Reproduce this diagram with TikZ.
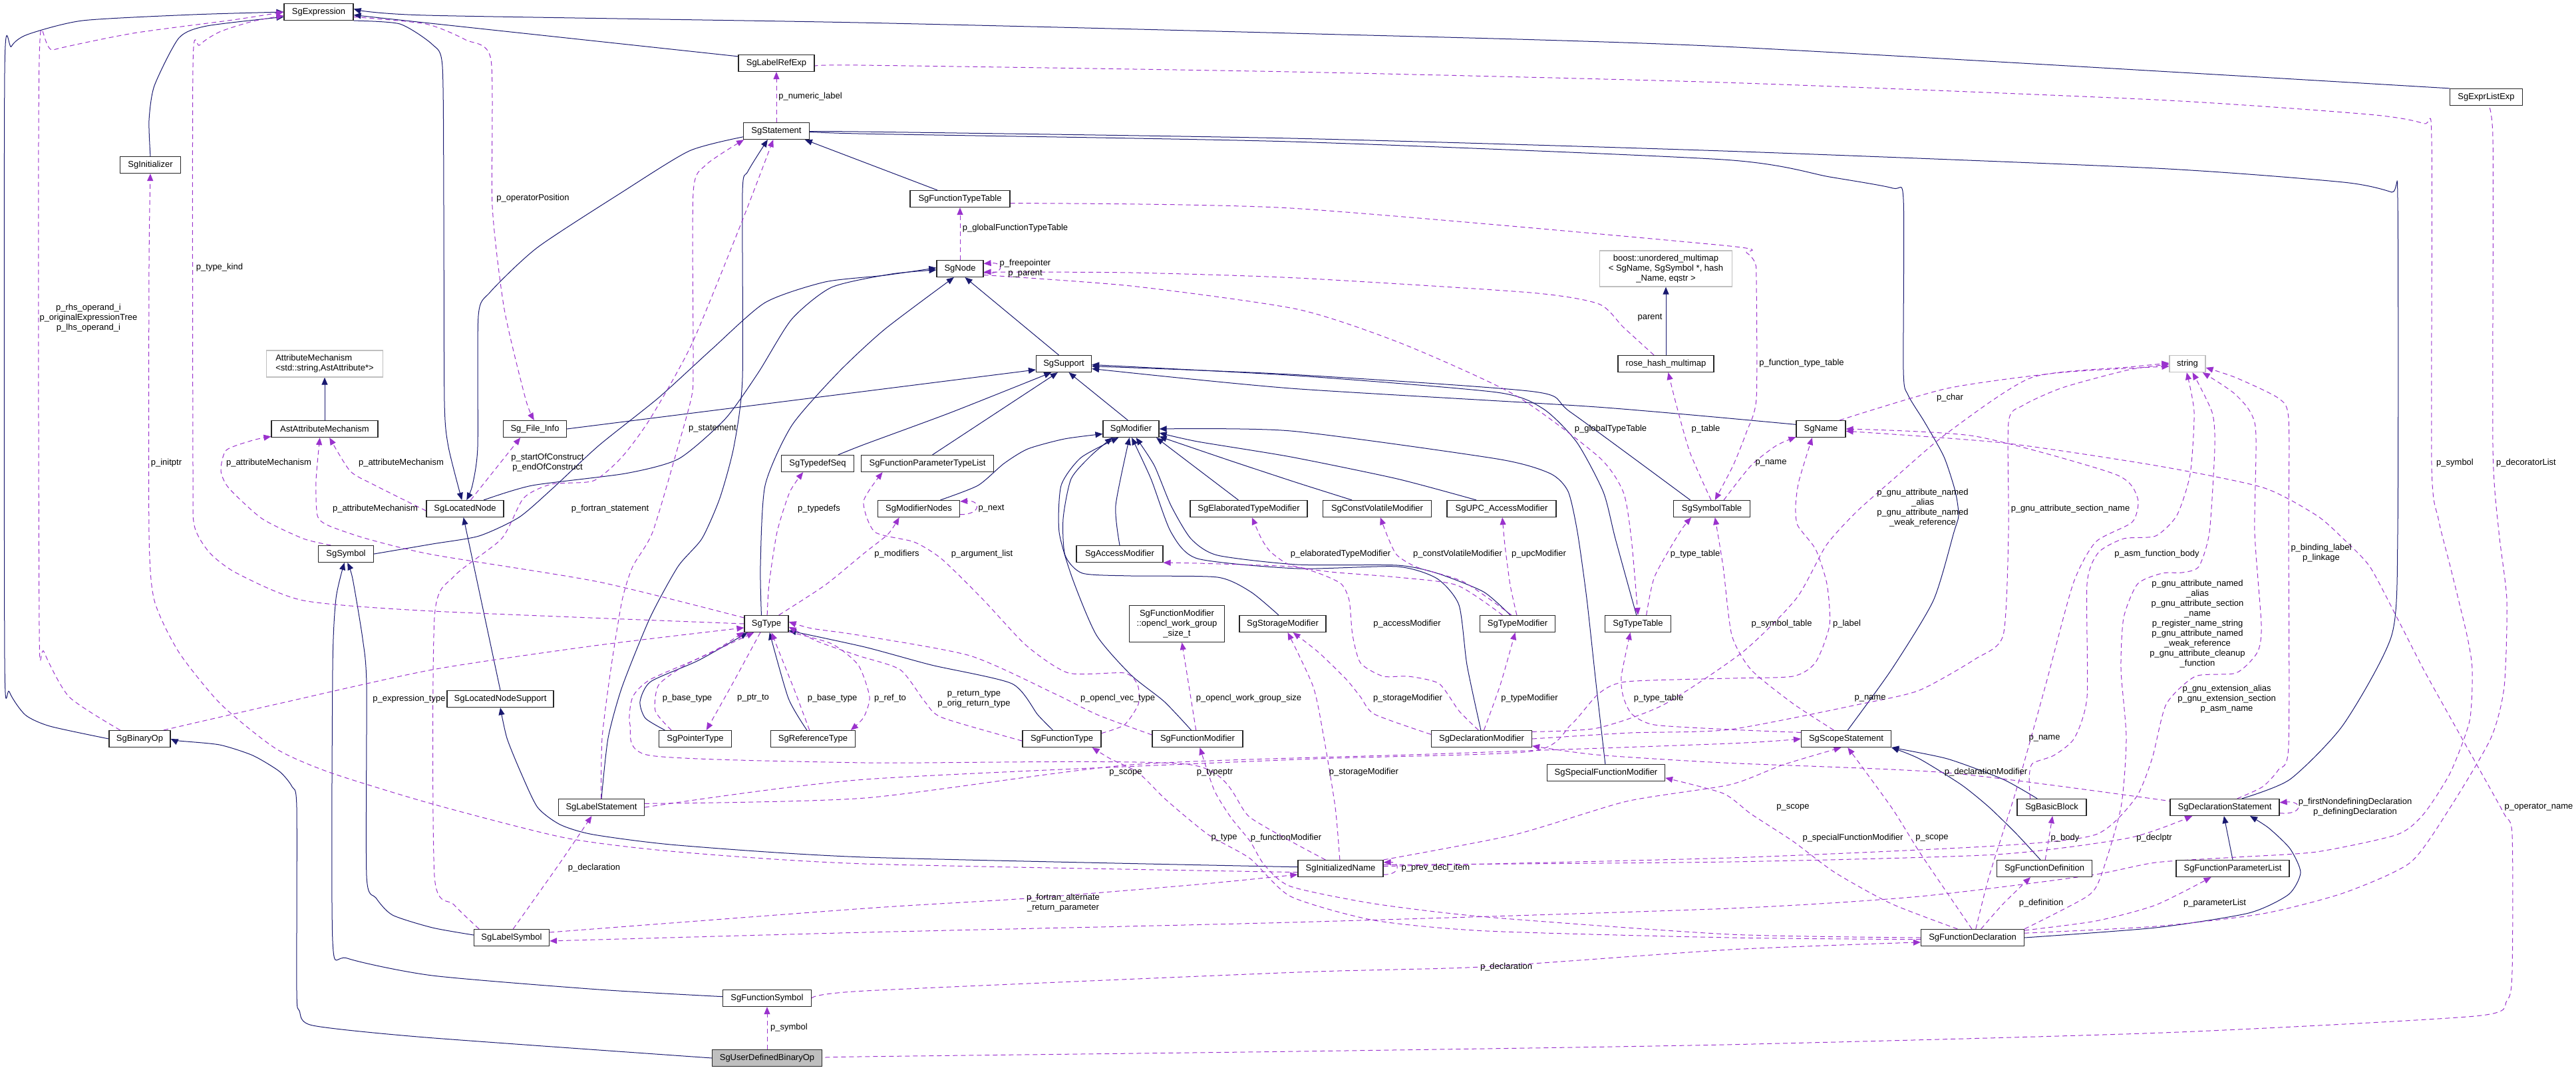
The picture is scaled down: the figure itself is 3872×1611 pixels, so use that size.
\documentclass[tikz,border=0pt]{standalone}
\usepackage{fontspec}
\setmainfont{Liberation Sans}
\usetikzlibrary{arrows.meta}
\definecolor{navy}{RGB}{25,25,112}
\definecolor{purp}{RGB}{154,50,205}
\definecolor{gry}{RGB}{191,191,191}
\newcommand\fs{\fontsize{13}{15}\selectfont}
\pgfdeclarelayer{bg}
\pgfsetlayers{bg,main}
\tikzset{
  cls/.style={draw=black!85, line width=1.2pt, fill=white, minimum height=25pt, inner sep=0pt, font=\fs, align=center},
  ext/.style={cls, draw=gry},
  inh/.style={draw=navy, line width=1pt, -{Triangle[length=11pt,width=9pt]}},
  use/.style={draw=purp, line width=1pt, dash pattern=on 7pt off 5pt, -{Triangle[length=11pt,width=9pt]}},
  lbl/.style={font=\fs, inner sep=0pt, align=center, text=black},
  sm/.style={smooth, tension=0.4},
}
\begin{document}
\begin{tikzpicture}[x=1pt,y=-1pt]
\useasboundingbox (0,0) rectangle (3872,1611);
% ---------------- nodes
\node[cls,minimum width=104pt] (expr) at (479,18) {SgExpression};
\node[cls,minimum width=114pt] (lre) at (1167,95) {SgLabelRefExp};
\node[cls,minimum width=109pt] (ell) at (3737,146) {SgExprListExp};
\node[cls,minimum width=99pt] (stmt) at (1167,197) {SgStatement};
\node[cls,minimum width=91pt] (init) at (226,248) {SgInitializer};
\node[cls,minimum width=150pt] (ftt) at (1443,299) {SgFunctionTypeTable};
\node[cls,minimum width=70pt] (node) at (1443,404) {SgNode};
\node[ext,minimum width=199pt,minimum height=54pt] (boost) at (2504,404) {boost::unordered\_multimap\\< SgName, SgSymbol *, hash\\\_Name, eqstr >};
\node[ext,minimum width=175pt,minimum height=40pt,align=left] (attm) at (488,547) {AttributeMechanism\\<std::string,AstAttribute*>};
\node[cls,minimum width=83pt] (sup) at (1599,547) {SgSupport};
\node[cls,minimum width=144pt] (rhm) at (2504,547) {rose\_hash\_multimap};
\node[ext,minimum width=54pt] (str) at (3288,547) {string};
\node[cls,minimum width=74pt] (name) at (2737,645) {SgName};
\node[cls,minimum width=160pt] (aam) at (488,645) {AstAttributeMechanism};
\node[cls,minimum width=95pt] (fi) at (804,645) {Sg\_File\_Info};
\node[cls,minimum width=84pt] (mod) at (1700,645) {SgModifier};
\node[cls,minimum width=109pt] (tds) at (1229,697) {SgTypedefSeq};
\node[cls,minimum width=199pt] (fptl) at (1394,697) {SgFunctionParameterTypeList};
\node[cls,minimum width=116pt] (ln) at (699,765) {SgLocatedNode};
\node[cls,minimum width=123pt] (mn) at (1381,765) {SgModifierNodes};
\node[cls,minimum width=176pt] (etm) at (1877,765) {SgElaboratedTypeModifier};
\node[cls,minimum width=163pt] (cvm) at (2070,765) {SgConstVolatileModifier};
\node[cls,minimum width=164pt] (upc) at (2257,765) {SgUPC\_AccessModifier};
\node[cls,minimum width=115pt] (st) at (2573,765) {SgSymbolTable};
\node[cls,minimum width=83pt] (sym) at (520,833) {SgSymbol};
\node[cls,minimum width=130pt] (am) at (1683,833) {SgAccessModifier};
\node[cls,minimum width=99pt] (tt) at (2462,938) {SgTypeTable};
\node[cls,minimum width=130pt] (stm) at (1928,938) {SgStorageModifier};
\node[cls,minimum width=113pt] (tm) at (2281,938) {SgTypeModifier};
\node[cls,minimum width=66pt] (type) at (1152,938) {SgType};
\node[cls,minimum width=143pt,minimum height=55pt] (ocl) at (1769,938) {SgFunctionModifier\\::opencl\_work\_group\\\_size\_t};
\node[cls,minimum width=160pt] (lns) at (752,1051) {SgLocatedNodeSupport};
\node[cls,minimum width=109pt] (pt) at (1045,1111) {SgPointerType};
\node[cls,minimum width=127pt] (rt) at (1222,1111) {SgReferenceType};
\node[cls,minimum width=118pt] (ft) at (1596,1111) {SgFunctionType};
\node[cls,minimum width=136pt] (fm) at (1800,1111) {SgFunctionModifier};
\node[cls,minimum width=151pt] (dm) at (2227,1111) {SgDeclarationModifier};
\node[cls,minimum width=135pt] (ss) at (2775,1111) {SgScopeStatement};
\node[cls,minimum width=177pt] (sfm) at (2414,1162) {SgSpecialFunctionModifier};
\node[cls,minimum width=92pt] (bo) at (210,1111) {SgBinaryOp};
\node[cls,minimum width=129pt] (ls) at (904,1214) {SgLabelStatement};
\node[cls,minimum width=104pt] (bb) at (3084,1214) {SgBasicBlock};
\node[cls,minimum width=164pt] (ds) at (3344,1214) {SgDeclarationStatement};
\node[cls,minimum width=128pt] (inm) at (2015,1306) {SgInitializedName};
\node[cls,minimum width=143pt] (fdef) at (3073,1306) {SgFunctionDefinition};
\node[cls,minimum width=170pt] (fpl) at (3356,1306) {SgFunctionParameterList};
\node[cls,minimum width=113pt] (lsym) at (769,1410) {SgLabelSymbol};
\node[cls,minimum width=155pt] (fdecl) at (2965,1410) {SgFunctionDeclaration};
\node[cls,minimum width=133pt] (fsym) at (1153,1501) {SgFunctionSymbol};
\node[cls,minimum width=165pt,fill=gry] (udb) at (1153,1591) {SgUserDefinedBinaryOp};
% ---------------- labels
\node[lbl] (l01) at (133,478) {p\_rhs\_operand\_i\\p\_originalExpressionTree\\p\_lhs\_operand\_i};
\node[lbl] (l02) at (330,402) {p\_type\_kind};
\node[lbl] (l03) at (250,696) {p\_initptr};
\node[lbl] (l04) at (404,696) {p\_attributeMechanism};
\node[lbl] (l05) at (564,765) {p\_attributeMechanism};
\node[lbl] (l06) at (603,696) {p\_attributeMechanism};
\node[lbl] (l07) at (801,298) {p\_operatorPosition};
\node[lbl] (l08) at (1218,145) {p\_numeric\_label};
\node[lbl] (l09) at (1071,645) {p\_statement};
\node[lbl] (l10) at (823,696) {p\_startOfConstruct\\p\_endOfConstruct};
\node[lbl] (l11) at (917,765) {p\_fortran\_statement};
\node[lbl] (l12) at (1231,765) {p\_typedefs};
\node[lbl] (l13) at (1526,343) {p\_globalFunctionTypeTable};
\node[lbl] (l14) at (1541,404) {p\_freepointer\\p\_parent};
\node[lbl] (l15) at (1490,765) {p\_next};
\node[lbl] (l16) at (2421,645) {p\_globalTypeTable};
\node[lbl] (l17) at (2564,645) {p\_table};
\node[lbl] (l18) at (2480,478) {parent};
\node[lbl] (l19) at (2708,546) {p\_function\_type\_table};
\node[lbl] (l20) at (2931,598) {p\_char};
\node[lbl] (l21) at (2662,696) {p\_name};
\node[lbl] (l22) at (2890,764) {p\_gnu\_attribute\_named\\\_alias\\p\_gnu\_attribute\_named\\\_weak\_reference};
\node[lbl] (l23) at (3112,765) {p\_gnu\_attribute\_section\_name};
\node[lbl] (l24) at (3690,696) {p\_symbol};
\node[lbl] (l25) at (3797,696) {p\_decoratorList};
\node[lbl] (l26) at (615,1051) {p\_expression\_type};
\node[lbl] (l27) at (1033,1050) {p\_base\_type};
\node[lbl] (l28) at (1132,1050) {p\_ptr\_to};
\node[lbl] (l29) at (1251,1050) {p\_base\_type};
\node[lbl] (l30) at (893,1305) {p\_declaration};
\node[lbl] (l31) at (1186,1545) {p\_symbol};
\node[lbl] (l32) at (1348,833) {p\_modifiers};
\node[lbl] (l33) at (1476,833) {p\_argument\_list};
\node[lbl] (l34) at (1338,1050) {p\_ref\_to};
\node[lbl] (l35) at (1464,1051) {p\_return\_type\\p\_orig\_return\_type};
\node[lbl] (l36) at (1680,1050) {p\_opencl\_vec\_type};
\node[lbl] (l37) at (1877,1050) {p\_opencl\_work\_group\_size};
\node[lbl] (l38) at (1692,1162) {p\_scope};
\node[lbl] (l39) at (1826,1162) {p\_typeptr};
\node[lbl] (l40) at (1840,1260) {p\_type};
\node[lbl] (l41) at (1933,1260) {p\_functionModifier};
\node[lbl] (l42) at (1598,1358) {p\_fortran\_alternate\\\_return\_parameter};
\node[lbl] (l43) at (2015,833) {p\_elaboratedTypeModifier};
\node[lbl] (l44) at (2191,833) {p\_constVolatileModifier};
\node[lbl] (l45) at (2313,833) {p\_upcModifier};
\node[lbl] (l46) at (2548,833) {p\_type\_table};
\node[lbl] (l47) at (2115,938) {p\_accessModifier};
\node[lbl] (l48) at (2116,1050) {p\_storageModifier};
\node[lbl] (l49) at (2299,1050) {p\_typeModifier};
\node[lbl] (l50) at (2493,1050) {p\_type\_table};
\node[lbl] (l51) at (2050,1161) {p\_storageModifier};
\node[lbl] (l52) at (2158,1305) {p\_prev\_decl\_item};
\node[lbl] (l53) at (2264,1454) {p\_declaration};
\node[lbl] (l54) at (2678,938) {p\_symbol\_table};
\node[lbl] (l55) at (2776,938) {p\_label};
\node[lbl] (l56) at (2811,1050) {p\_name};
\node[lbl] (l57) at (3242,833) {p\_asm\_function\_body};
\node[lbl] (l58) at (3073,1110) {p\_name};
\node[lbl] (l59) at (2985,1161) {p\_declarationModifier};
\node[lbl] (l60) at (2695,1214) {p\_scope};
\node[lbl] (l61) at (2785,1260) {p\_specialFunctionModifier};
\node[lbl] (l62) at (2904,1260) {p\_scope};
\node[lbl] (l63) at (3104,1260) {p\_body};
\node[lbl] (l64) at (3238,1260) {p\_declptr};
\node[lbl] (l65) at (3068,1358) {p\_definition};
\node[lbl] (l66) at (3489,832) {p\_binding\_label\\p\_linkage};
\node[lbl] (l67) at (3303,938) {p\_gnu\_attribute\_named\\\_alias\\p\_gnu\_attribute\_section\\\_name\\p\_register\_name\_string\\p\_gnu\_attribute\_named\\\_weak\_reference\\p\_gnu\_attribute\_cleanup\\\_function};
\node[lbl] (l68) at (3347,1051) {p\_gnu\_extension\_alias\\p\_gnu\_extension\_section\\p\_asm\_name};
\node[lbl] (l69) at (3540,1214) {p\_firstNondefiningDeclaration\\p\_definingDeclaration};
\node[lbl] (l70) at (3329,1358) {p\_parameterList};
\node[lbl] (l71) at (3816,1214) {p\_operator\_name};
% ---------------- edges
\begin{pgfonlayer}{bg}
\fill[white] (0,0) rectangle (3872,1611);
% inheritance
\draw[inh] plot[sm] coordinates {(bo.west) (75,1092) (38,1075) (14,1040) (7,990) (7,110) (17,70) (41,52) (124,31) (290,22) (expr.west)};
\draw[inh] plot[sm] coordinates {(init.north) (224,181) (232,129) (269,57) (311,39) (expr.188)};
\draw[inh] (lre.170) -- (expr.355);
\draw[inh] plot[sm] coordinates {(ell.north west) (2590,70) (1940,50) (1290,34) (640,23) (expr.5)};
\draw[inh] plot[sm] coordinates {(expr.south east) (601,36) (650,67) (665,100) (667,310) (668,604) (674,672) (ln.110)};
\draw[inh] plot[sm] coordinates {(stmt.190) (1036,227) (935,289) (808,372) (737,439) (719,475) (718,672) (710,730) (ln.80)};
\draw[inh] plot[sm] coordinates {(ln.25) (800,730) (940,712) (1020,690) (1090,630) (1140,560) (1190,480) (1250,432) (1340,412) (node.183)};
\draw[inh] plot[sm] coordinates {(sym.east) (650,818) (720,806) (780,778) (830,735) (900,670) (990,598) (1070,525) (1150,455) (1240,424) (1330,414) (node.178)};
\draw[inh] plot[sm] coordinates {(type.120) (1143,850) (1150,730) (1190,640) (1260,560) (1330,495) (node.235)};
\draw[inh] (sup.120) -- (node.300);
\draw[inh] (fi.east) -- (sup.192);
\draw[inh] plot[sm] coordinates {(tds.23) (1300,668) (1430,620) (sup.215)};
\draw[inh] (fptl.60) -- (sup.235);
\draw[inh] (mod.110) -- (sup.300);
\draw[inh] plot[sm] coordinates {(st.158) (2361,620) (2306,589) (1940,563) (sup.355)};
\draw[inh] plot[sm] coordinates {(tt.100) (2428,810) (2410,740) (2370,665) (2320,615) (2250,590) (1950,565) (sup.358)};
\draw[inh] plot[sm] coordinates {(name.170) (2400,612) (1940,584) (sup.350)};
\draw[inh] (ftt.159) -- (stmt.343);
\draw[inh] plot[sm] coordinates {(ss.80) (2843,1007) (2906,903) (2937,800) (2944,775) (2939,739) (2922,687) (2893,635) (2868,594) (2861,558) (2861,300) (2845,283) (2750,266) (2590,240) (1940,213) (1290,201) (stmt.east)};
\draw[inh] plot[sm] coordinates {(ds.27) (3442,1172) (3522,1090) (3595,955) (3604,800) (3604,300) (3595,289) (3522,274) (3240,253) (2590,227) (1940,208) (1290,198) (stmt.358)};
\draw[inh] (lns.north) -- (ln.260);
\draw[inh] plot[sm] coordinates {(inm.178) (1300,1289) (1019,1271) (892,1255) (842,1240) (808,1214) (783,1162) (762,1110) (lns.south)};
\draw[inh] plot[sm] coordinates {(ls.north) (914,1110) (935,1033) (977,929) (1019,852) (1055,810) (1082,749) (1103,672) (1116,568) (1116,289) (1124,258) (stmt.225)};
\draw[inh] plot[sm] coordinates {(pt.164) (970,1080) (962,1055) (978,1025) (1050,993) (type.205)};
\draw[inh] plot[sm] coordinates {(rt.125) (1185,1050) (type.290)};
\draw[inh] plot[sm] coordinates {(ft.136) (1560,1075) (1521,1028) (1400,1000) (1300,973) (type.343)};
\draw[inh] plot[sm] coordinates {(lsym.176) (650,1395) (590,1376) (565,1350) (551,1317) (551,1030) (545,960) (530,870) (sym.280)};
\draw[inh] plot[sm] coordinates {(fsym.178) (900,1488) (650,1467) (522,1441) (500,1415) (500,1007) (505,900) (sym.260)};
\draw[inh] plot[sm] coordinates {(udb.west) (640,1560) (470,1542) (450,1520) (446,1490) (446,1214) (439,1183) (420,1160) (380,1136) (330,1120) (269,1114) (bo.east)};
\draw[inh] (aam.north) -- (attm.south);
\draw[inh] (rhm.north) -- (boost.south);
\draw[inh] plot[sm] coordinates {(mn.22) (1470,730) (1509,697) (1545,675) (1600,660) (mod.190)};
\draw[inh] (etm.140) -- (mod.341);
\draw[inh] plot[sm] coordinates {(cvm.161) (1950,726) (1850,693) (mod.345)};
\draw[inh] plot[sm] coordinates {(upc.161) (2100,720) (1940,687) (1800,664) (mod.352)};
\draw[inh] plot[sm] coordinates {(sfm.95) (2399,1028) (2385,900) (2371,800) (2357,739) (2330,712) (2250,690) (1940,648) (mod.east)};
\draw[inh] plot[sm] coordinates {(am.north) (1677,760) (mod.260)};
\draw[inh] plot[sm] coordinates {(stm.115) (1880,890) (1830,868) (1700,866) (1627,862) (1601,835) (1598,780) (1610,720) (1640,685) (mod.205)};
\draw[inh] plot[sm] coordinates {(fm.126) (1750,1055) (1700,1015) (1648,955) (1612,870) (1592,800) (1595,730) (1625,688) (mod.215)};
\draw[inh] plot[sm] coordinates {(dm.95) (2205,1000) (2193,910) (2160,870) (2100,852) (1950,855) (1800,840) (1760,800) (1730,720) (mod.275)};
\draw[inh] plot[sm] coordinates {(tm.130) (2230,890) (2160,862) (2100,850) (1950,849) (1830,835) (1790,810) (1760,760) (1735,700) (mod.300)};
\draw[inh] plot[sm] coordinates {(bb.149) (3011,1172) (2927,1141) (ss.south east)};
\draw[inh] plot[sm] coordinates {(fdef.115) (3032,1255) (2990,1214) (2948,1180) (2885,1141) (ss.south east)};
\draw[inh] (fpl.north) -- (ds.265);
\draw[inh] plot[sm] coordinates {(fdecl.east) (3240,1395) (3380,1373) (3440,1345) (3458,1312) (3442,1276) (3410,1245) (ds.341)};
% usage
\draw[use] plot[sm] coordinates {(bo.156) (104,1048) (66,980) (59,940) (59,90) (80,75) (200,50) (350,30) (expr.west)};
\draw[use] plot[sm] coordinates {(inm.185) (1300,1299) (1019,1281) (850,1260) (650,1209) (497,1162) (415,1126) (332,1059) (269,981) (232,903) (224,800) (224,400) (init.south)};
\draw[use] plot[sm] coordinates {(type.west) (650,919) (456,903) (356,862) (315,831) (292,790) (290,700) (290,100) (300,68) (330,48) (380,32) (expr.186)};
\draw[use] plot[sm] coordinates {(expr.352) (640,36) (700,60) (738,90) (740,310) (758,465) (790,600) (fi.95)};
\draw[use] (ln.57) -- (fi.211);
\draw[use] (stmt.north) -- (lre.south);
\draw[use] plot[sm] coordinates {(ls.92) (905,1110) (918,1007) (935,903) (951,852) (981,800) (1019,672) (1040,594) (1042,542) (1042,289) (1061,248) (stmt.195)};
\draw[use] plot[sm] coordinates {(lsym.165) (682,1360) (653,1317) (653,929) (682,867) (754,810) (787,749) (829,728) (892,723) (935,687) (977,630) (1040,517) (1116,331) (stmt.250)};
\draw[use] plot[sm] coordinates {(sym.150) (456,810) (394,780) (344,734) (332,708) (340,677) (380,662) (aam.188)};
\draw[use] plot[sm] coordinates {(type.165) (900,875) (650,834) (551,810) (493,790) (477,775) (475,723) (aam.241)};
\draw[use] plot[sm] coordinates {(ln.183) (560,728) (526,708) (aam.299)};
\draw[use] (node.350) .. controls (1510,414) and (1510,394) .. (node.12);
\draw[use] plot[sm] coordinates {(rhm.144) (2440,492) (2403,457) (2300,440) (1950,418) (1700,410) (node.352)};
\draw[use] (node.north) -- (ftt.south);
\draw[use] plot[sm] coordinates {(ftt.355) (1940,313) (2590,369) (2625,380) (2638,395) (2640,420) (2640,599) (2625,650) (2605,700) (st.70)};
\draw[use] plot[sm] coordinates {(node.345) (1700,430) (1950,465) (2108,517) (2277,594) (2403,687) (2440,740) (2452,810) (tt.north)};
\draw[use] plot[sm] coordinates {(st.95) (2540,680) (2520,610) (rhm.285)};
\draw[use] plot[sm] coordinates {(st.36) (2632,700) (2670,670) (name.198)};
\draw[use] plot[sm] coordinates {(name.25) (2927,584) (3100,560) (str.188)};
\draw[use] plot[sm] coordinates {(tt.46) (2487,867) (2525,800) (st.203)};
\draw[use] plot[sm] coordinates {(ss.172) (2600,1097) (2487,1090) (2453,1074) (2440,1048) (2437,1017) (tt.229)};
\draw[use] plot[sm] coordinates {(type.85) (1156,878) (1168,800) (1187,740) (tds.211)};
\draw[use] plot[sm] coordinates {(type.35) (1240,880) (1300,831) (1335,803) (mn.204)};
\draw[use] plot[sm] coordinates {(ft.8) (1690,1090) (1711,1059) (1710,1030) (1690,1012) (1606,1012) (1543,971) (1479,903) (1416,841) (1374,815) (1315,800) (1298,754) (fptl.191)};
\draw[use] plot[sm] coordinates {(type.235) (1100,1030) (pt.38)};
\draw[use] plot[sm] coordinates {(pt.160) (985,1069) (990,1030) (1030,1000) (1080,975) (type.200)};
\draw[use] plot[sm] coordinates {(type.340) (1250,968) (1290,1000) (1307,1048) (1298,1079) (rt.13)};
\draw[use] plot[sm] coordinates {(rt.112) (1195,1040) (1175,990) (type.300)};
\draw[use] plot[sm] coordinates {(ft.183) (1416,1079) (1390,1055) (1353,1007) (1290,986) (1230,965) (type.352)};
\draw[use] plot[sm] coordinates {(fm.175) (1650,1075) (1585,1043) (1458,986) (1290,955) (1220,945) (type.5)};
\draw[use] (fm.100) -- (ocl.285);
\draw[use] plot[sm] coordinates {(inm.150) (1880,1230) (1790,1150) (1300,1147) (977,1136) (947,1090) (951,1048) (977,1022) (1050,990) (type.215)};
\draw[use] plot[sm] coordinates {(bo.20) (415,1059) (650,1007) (893,971) (type.190)};
\draw[use] (mn.352) .. controls (1475,774) and (1475,752) .. (mn.10);
\draw[use] plot[sm] coordinates {(lsym.80) (840,1300) (ls.222)};
\draw[use] plot[sm] coordinates {(fsym.east) (1300,1490) (1950,1462) (2226,1454) (2600,1428) (fdecl.185)};
\draw[use] (udb.north) -- (fsym.south);
\draw[use] plot[sm] coordinates {(udb.east) (1290,1589) (1950,1581) (2590,1571) (3250,1553) (3720,1528) (3768,1505) (3776,1460) (3776,1255) (3764,1224) (3724,1152) (3683,1079) (3643,1007) (3603,929) (3562,852) (3522,810) (3482,775) (3401,733) (3240,700) (3011,666) (name.355)};
\draw[use] plot[sm] coordinates {(fdecl.5) (3240,1393) (3401,1374) (3522,1343) (3623,1297) (3683,1214) (3744,1110) (3764,1033) (3768,903) (3756,800) (3747,672) (3747,207) (ell.265)};
\draw[use] plot[sm] coordinates {(lre.355) (1290,98) (1940,108) (2590,124) (3240,150) (3560,172) (3643,186) (3655,210) (3655,700) (3665,780) (3683,852) (3708,955) (3716,1007) (3712,1084) (3683,1162) (3643,1224) (3603,1255) (3482,1281) (3361,1289) (3240,1297) (3137,1317) (2885,1348) (2600,1366) (1940,1387) (1300,1402) (lsym.355)};
\draw[use] plot[sm] coordinates {(lsym.8) (1300,1366) (1543,1351) (1800,1330) (inm.188)};
\draw[use] (inm.352) .. controls (2105,1316) and (2105,1296) .. (inm.8);
\draw[use] plot[sm] coordinates {(inm.5) (2600,1296) (3000,1285) (3200,1260) (ds.195)};
\draw[use] plot[sm] coordinates {(fdecl.46) (3011,1359) (fdef.212)};
\draw[use] (fdef.85) -- (bb.275);
\draw[use] plot[sm] coordinates {(fdecl.8) (3150,1385) (3240,1361) (fpl.202)};
\draw[use] (ds.354) .. controls (3462,1226) and (3462,1204) .. (ds.5);
\draw[use] plot[sm] coordinates {(ds.35) (3401,1183) (3425,1157) (3440,1121) (3440,800) (3440,630) (3425,599) (3361,568) (str.348)};
\draw[use] plot[sm] coordinates {(inm.3) (2600,1290) (3000,1272) (3150,1255) (3210,1200) (3235,1140) (3256,1059) (3300,1017) (3361,1012) (3393,981) (3399,940) (3389,800) (3390,641) (3361,594) (str.330)};
\draw[use] plot[sm] coordinates {(fdecl.north east) (3137,1348) (3158,1317) (3188,1214) (3196,1110) (3188,1007) (3192,929) (3213,878) (3250,862) (3280,861) (3305,852) (3321,800) (3329,672) (3325,620) (str.300)};
\draw[use] plot[sm] coordinates {(bb.158) (3050,1170) (3055,1148) (3087,1136) (3118,1110) (3137,1048) (3137,878) (3154,831) (3192,810) (3240,806) (3272,775) (3292,713) (3298,620) (str.265)};
\draw[use] plot[sm] coordinates {(fdecl.70) (2990,1317) (3030,1190) (3074,1033) (3116,878) (3150,815) (3205,785) (3213,749) (3179,713) (2969,656) (name.east)};
\draw[use] plot[sm] coordinates {(dm.east) (2450,1102) (2600,1097) (2800,1058) (2885,1038) (2969,991) (3011,955) (3019,800) (3019,635) (3040,610) (3100,583) (3200,556) (str.182)};
\draw[use] plot[sm] coordinates {(dm.8) (2400,1095) (2500,1060) (2620,980) (2700,900) (2745,820) (2790,770) (2843,723) (2927,651) (3053,568) (3200,552) (str.178)};
\draw[use] plot[sm] coordinates {(ls.east) (1300,1172) (1950,1142) (2300,1130) (2361,1090) (2403,1043) (2445,1025) (2600,1020) (2695,1017) (2729,996) (2750,940) (2746,878) (2729,826) (2702,790) (2699,760) (2704,723) (name.225)};
\draw[use] plot[sm] coordinates {(ls.5) (1300,1200) (1700,1150) (2150,1134) (2600,1118) (ss.west)};
\draw[use] plot[sm] coordinates {(inm.north east) (2277,1255) (2445,1205) (2600,1180) (2680,1150) (ss.240)};
\draw[use] plot[sm] coordinates {(fdecl.95) (2927,1343) (2885,1281) (2843,1214) (ss.280)};
\draw[use] plot[sm] coordinates {(fdecl.150) (2843,1359) (2758,1312) (2695,1265) (2632,1224) (2590,1193) (sfm.355)};
\draw[use] plot[sm] coordinates {(fdecl.west) (2600,1405) (2235,1379) (2066,1359) (1940,1333) (1900,1300) (1879,1265) (1850,1229) (1825,1188) (fm.285)};
\draw[use] plot[sm] coordinates {(fdecl.182) (2600,1410) (2235,1400) (2066,1384) (1940,1348) (1879,1291) (1816,1255) (1753,1203) (1711,1162) (1669,1141) (ft.344)};
\draw[use] plot[sm] coordinates {(ds.175) (3250,1203) (2927,1162) (2590,1147) (2400,1135) (dm.352)};
\draw[use] plot[sm] coordinates {(dm.175) (2066,1074) (2045,1048) (2024,1022) (1982,981) (stm.320)};
\draw[use] plot[sm] coordinates {(inm.95) (2007,1214) (1990,1110) (1974,1033) (stm.300)};
\draw[use] plot[sm] coordinates {(dm.110) (2193,1069) (2163,1028) (2117,1017) (2079,1017) (2045,997) (2033,955) (2028,903) (2016,878) (1982,862) (1940,852) (1800,847) (am.south east)};
\draw[use] plot[sm] coordinates {(dm.75) (2255,1030) (tm.255)};
\draw[use] plot[sm] coordinates {(tm.150) (2190,880) (2100,868) (2000,860) (1940,850) (1910,830) (1896,810) (etm.290)};
\draw[use] plot[sm] coordinates {(tm.125) (2200,875) (2130,853) (2100,835) (2087,810) (cvm.290)};
\draw[use] plot[sm] coordinates {(tm.95) (2270,880) (2262,820) (upc.275)};
\draw[use] plot[sm] coordinates {(ss.145) (2695,1058) (2632,1007) (2603,955) (2590,852) (st.290)};
\end{pgfonlayer}
\end{tikzpicture}
\end{document}
